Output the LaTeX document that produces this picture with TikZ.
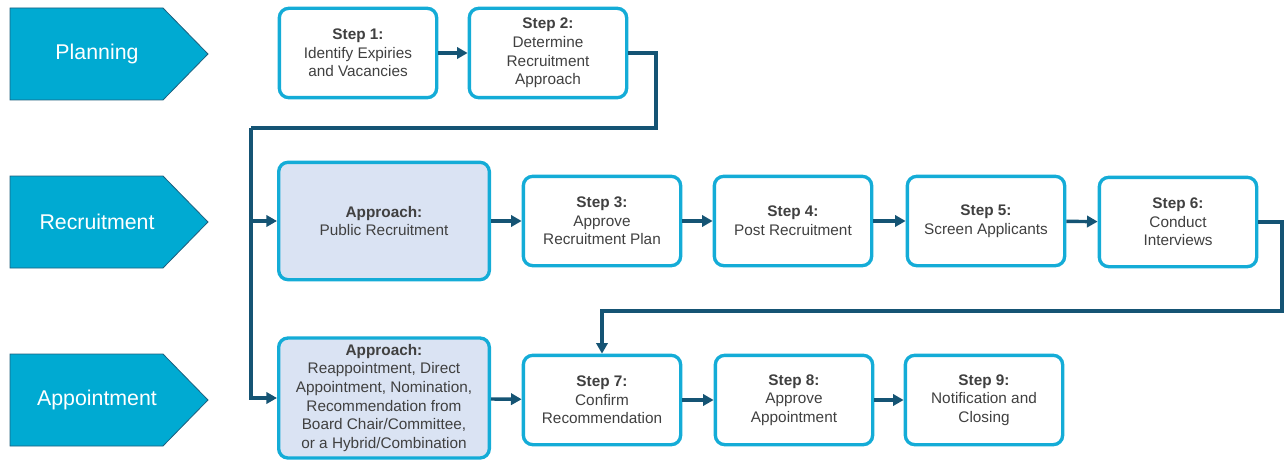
\documentclass[tikz,border=0pt]{standalone}
\usepackage{fontspec}
\setmainfont{Liberation Sans}
\usetikzlibrary{arrows.meta}

\definecolor{phasefill}{RGB}{0,170,210}
\definecolor{phaseline}{RGB}{30,95,125}
\definecolor{boxline}{RGB}{20,172,215}
\definecolor{flowline}{RGB}{21,84,116}
\definecolor{apfill}{RGB}{218,227,243}
\definecolor{txtgray}{RGB}{64,64,64}

\tikzset{
  phase/.style    = {fill=phasefill, draw=phaseline, line width=0.6pt},
  phasetext/.style= {text=white, font=\fontsize{16}{19}\selectfont},
  stepbox/.style  = {draw=boxline, fill=white, line width=2.5pt, rounded corners=7pt,
                     align=center, text=txtgray, inner sep=1pt,
                     font=\fontsize{11.5}{14}\selectfont,
                     minimum width=118pt, minimum height=67pt},
  approachbox/.style = {stepbox, fill=apfill, minimum width=158pt, minimum height=88pt},
  flow/.style     = {draw=flowline, line width=2.6pt, line join=miter,
                     -{Triangle[length=8pt,width=8.5pt]}},
  trunk/.style    = {draw=flowline, line width=2.6pt, line join=miter}
}

\begin{document}
\begin{tikzpicture}[x=0.75pt, y=-0.75pt]
    \useasboundingbox (0,0) rectangle (1286,460);

    % phases
    \foreach \yc/\nm/\lab in {54/plan/Planning, 222/recr/Recruitment, 400/appt/Appointment}{
      \draw[phase] (10,\yc-46) -- (163,\yc-46) -- (208,\yc) -- (163,\yc+46) -- (10,\yc+46) -- cycle;
      \node[phasetext] (\nm) at (97,\yc) {\lab};
    }

    % planning row
    \node[stepbox] (s1) at (358,53) {\textbf{Step 1:}\\Identify Expiries\\and Vacancies};
    \node[stepbox] (s2) at (548,53) {\textbf{Step 2:}\\Determine\\Recruitment\\Approach};

    % recruitment row
    \node[approachbox] (apub) at (384,221) {\textbf{Approach:}\\Public Recruitment};
    \node[stepbox] (s3) at (602,221) {\textbf{Step 3:}\\Approve\\Recruitment Plan};
    \node[stepbox] (s4) at (793,221) {\textbf{Step 4:}\\Post Recruitment};
    \node[stepbox] (s5) at (986,221) {\textbf{Step 5:}\\Screen Applicants};
    \node[stepbox] (s6) at (1178,222) {\textbf{Step 6:}\\Conduct\\Interviews};

    % appointment row
    \node[approachbox, minimum height=90pt] (aapp) at (384,398)
      {\textbf{Approach:}\\Reappointment, Direct\\Appointment, Nomination,\\Recommendation from\\Board Chair/Committee,\\or a Hybrid/Combination};
    \node[stepbox] (s7) at (602,400) {\textbf{Step 7:}\\Confirm\\Recommendation};
    \node[stepbox] (s8) at (794,400) {\textbf{Step 8:}\\Approve\\Appointment};
    \node[stepbox] (s9) at (984,400) {\textbf{Step 9:}\\Notification and\\Closing};

    \coordinate (r1) at (656,128);
    \coordinate (fork) at (251,128);
    \coordinate (r2) at (1282,311);

    % connectors
    \draw[flow] (s1) -- (s2);
    \draw[trunk] (s2.east) -| (r1) -- (fork);
    \draw[flow] (fork) |- (apub.west);
    \draw[flow] (fork) |- (aapp.west);

    \draw[flow] (apub) -- (s3);
    \draw[flow] (s3) -- (s4);
    \draw[flow] (s4) -- (s5);
    \draw[flow] (s5) -- (s6);
    \draw[flow] (s6.east) -| (r2) -| (s7.north);

    \draw[flow] (aapp) -- (s7);
    \draw[flow] (s7) -- (s8);
    \draw[flow] (s8) -- (s9);

\end{tikzpicture}
\end{document}
